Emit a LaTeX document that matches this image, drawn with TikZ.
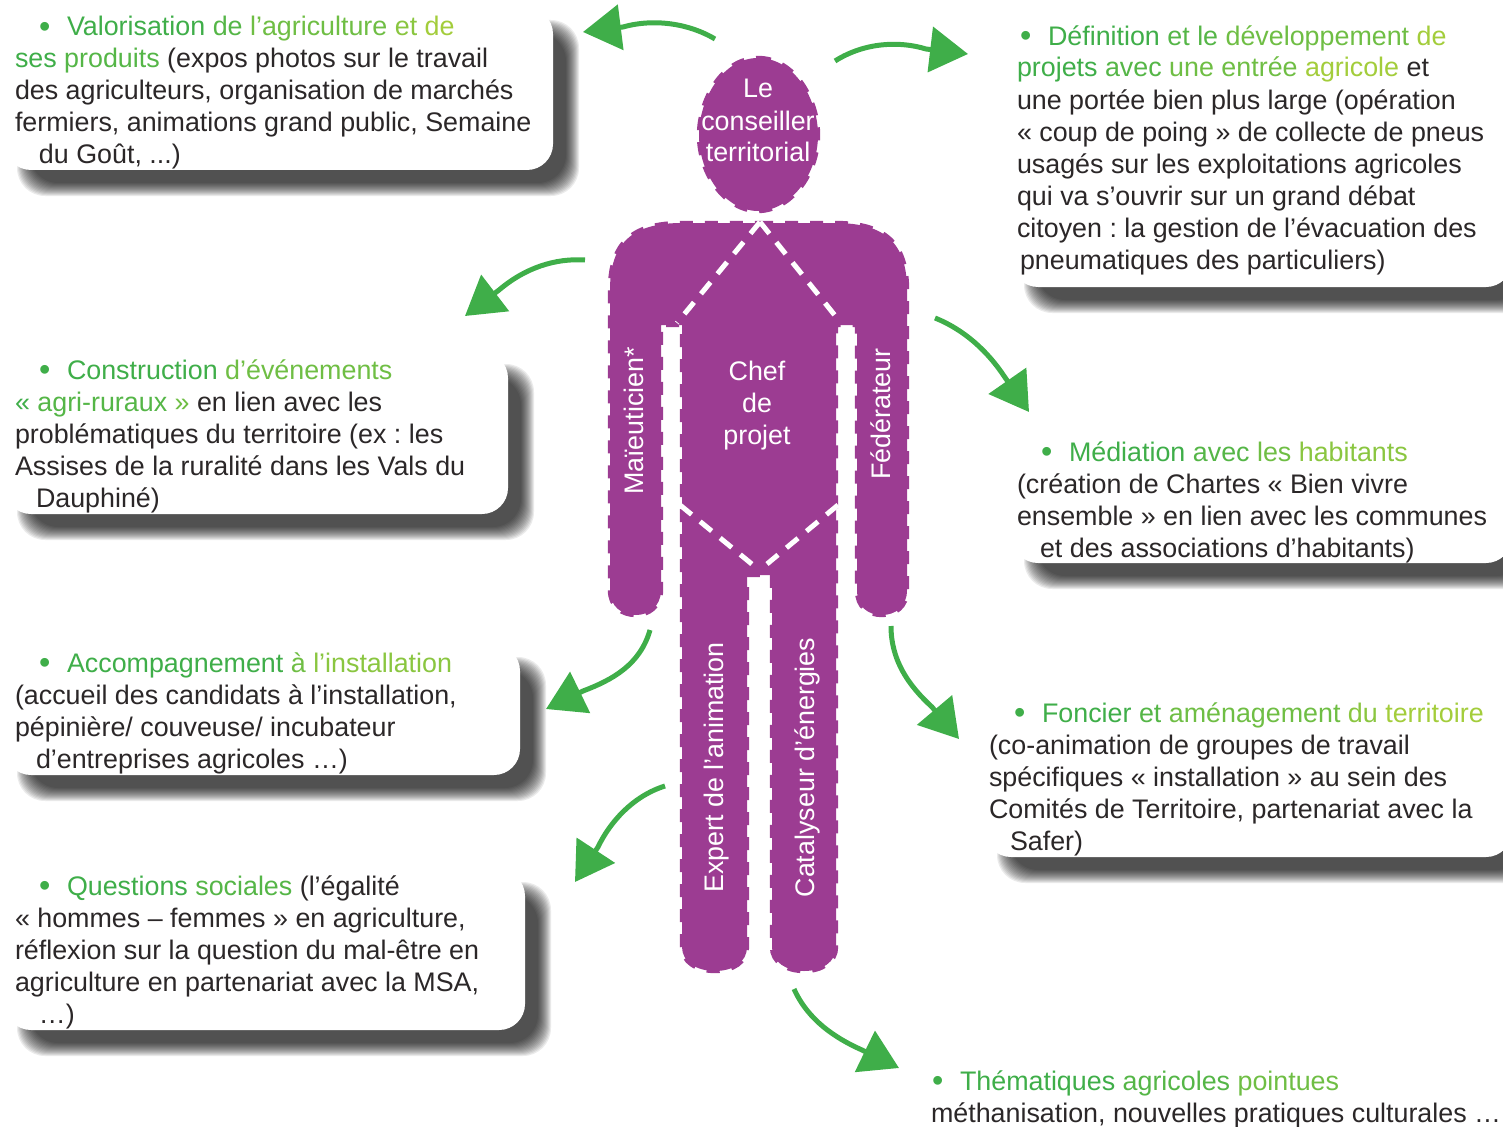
\documentclass[tikz,border=0pt]{standalone}
\usepackage{fontspec}
\setmainfont{Liberation Sans}
\usetikzlibrary{arrows.meta}
\definecolor{body}{HTML}{9C3C92}
\definecolor{ink}{HTML}{2B2728}
\definecolor{garrowc}{HTML}{3FAE49}
\definecolor{gA}{HTML}{3FAE49}
\definecolor{gB}{HTML}{55B647}
\definecolor{gC}{HTML}{6FBE44}
\definecolor{gD}{HTML}{8AC640}
\definecolor{gE}{HTML}{A3CD3B}
\newcommand{\bodyfont}{\frenchspacing\fontsize{26.85}{32}\selectfont}
\newcommand{\bul}[1]{\makebox[#1][l]{\hspace{#1}\llap{\raisebox{-1.2pt}{\scalebox{1.2}{\textcolor{gA}{•}}}\hspace{16.5pt}}}}
\newcommand{\gr}[2]{\textcolor{#1}{#2}}
\tikzset{
  x=1pt,y=-1pt,
  whitebox/.style={fill=white,rounded corners=26pt,inner sep=0pt,outer sep=0pt},
  para/.style={anchor=north west,inner sep=0pt,outer sep=0pt,align=left,text=ink,font=\bodyfont},
  whitelabel/.style={text=white,font=\bodyfont,inner sep=0pt,outer sep=0pt},
  sidelabel/.style={whitelabel,rotate=90,anchor=base},
  centerlabel/.style={whitelabel,align=center,anchor=north},
  garrow/.style={draw=garrowc,line width=5pt,-{Triangle[length=38pt,width=45pt]}},
  bodynubs/.style={draw=body,line width=4.4pt,dash pattern=on 13pt off 12pt},
  seam/.style={draw=white,line width=5pt,dash pattern=on 15pt off 11pt},
}
% name, x0, y0, x1, y1
\newcommand{\shadowed}[5]{%
  \foreach \k in {-7,-6,...,6}{%
    \fill[black,opacity=.078,rounded corners=28pt]
      (#2+19+\k,#3+19+\k) rectangle (#4+19-\k,#5+19-\k);
  }%
  \pgfmathsetmacro{\cx}{(#2+#4)/2}\pgfmathsetmacro{\cy}{(#3+#5)/2}%
  \pgfmathsetmacro{\bw}{#4-#2}\pgfmathsetmacro{\bh}{#5-#3}%
  \node[whitebox,minimum width=\bw pt,minimum height=\bh pt] (#1) at (\cx,\cy) {};%
}
% name, x, first baseline, text
\newcommand{\parat}[4]{\node[para] (#1) at (#2,#3-22.4) {\strut#4};}
\begin{document}
\begin{tikzpicture}
\useasboundingbox (0,0) rectangle (1503,1126);
\begin{scope}
\clip (0,0) rectangle (1503,1126);
\shadowed{boxA}{5}{8}{553}{170}
\shadowed{boxB}{1012}{14}{1512}{287}
\shadowed{boxC}{5}{352}{508}{514}
\shadowed{boxD}{1012}{430}{1512}{563}
\shadowed{boxE}{5}{645}{520}{775}
\shadowed{boxF}{985}{695}{1512}{857}
\shadowed{boxG}{5}{870}{525}{1030}
\end{scope}

% texts
\parat{txtA}{15}{36}{\bul{52pt}\gr{gA}{Valorisation} \gr{gB}{de} \gr{gC}{l’agriculture} \gr{gD}{et} \gr{gE}{de}\\
\gr{gA}{ses} \gr{gB}{produits} (expos photos sur le travail\\
des agriculteurs, organisation de marchés\\
fermiers, animations grand public, Semaine\\
\hspace*{24pt}du Goût, ...)}
\parat{txtB}{1017}{45}{\bul{31pt}\gr{gA}{Définition} \gr{gB}{et} \gr{gB}{le} \gr{gC}{développement} \gr{gE}{de}\\
\gr{gA}{projets} \gr{gB}{avec} \gr{gC}{une} \gr{gC}{entrée} \gr{gE}{agricole} et\\
une portée bien plus large (opération\\
« coup de poing » de collecte de pneus\\
usagés sur les exploitations agricoles\\
qui va s’ouvrir sur un grand débat\\
citoyen : la gestion de l’évacuation des\\
\hspace*{3pt}pneumatiques des particuliers)}
\parat{txtC}{15}{379}{\bul{52pt}\gr{gA}{Construction} \gr{gC}{d’événements}\\
\gr{gA}{«} \gr{gB}{agri-ruraux} \gr{gC}{»} en lien avec les\\
problématiques du territoire (ex : les\\
Assises de la ruralité dans les Vals du\\
\hspace*{21pt}Dauphiné)}
\parat{txtD}{1017}{461}{\bul{52pt}\gr{gA}{Médiation} \gr{gB}{avec} \gr{gC}{les} \gr{gD}{habitants}\\
(création de Chartes « Bien vivre\\
ensemble » en lien avec les communes\\
\hspace*{23pt}et des associations d’habitants)}
\parat{txtE}{15}{672}{\bul{52pt}\gr{gA}{Accompagnement} \gr{gC}{à} \gr{gD}{l’installation}\\
(accueil des candidats à l’installation,\\
pépinière/ couveuse/ incubateur\\
\hspace*{21pt}d’entreprises agricoles …)}
\parat{txtF}{989}{722}{\bul{53pt}\gr{gA}{Foncier} \gr{gB}{et} \gr{gC}{aménagement} \gr{gD}{du} \gr{gE}{territoire}\\
(co-animation de groupes de travail\\
spécifiques « installation » au sein des\\
Comités de Territoire, partenariat avec la\\
\hspace*{21pt}Safer)}
\parat{txtG}{15}{895}{\bul{52pt}\gr{gA}{Questions} \gr{gB}{sociales} (l’égalité\\
« hommes – femmes » en agriculture,\\
réflexion sur la question du mal-être en\\
agriculture en partenariat avec la MSA,\\
\hspace*{24pt}…)}
\parat{txtH}{931}{1090}{\bul{29pt}\gr{gA}{Thématiques} \gr{gB}{agricoles} \gr{gC}{pointues}\\
méthanisation, nouvelles pratiques culturales …}

% body
\def\headpath{(758,58) .. controls (795,58) and (818,100) .. (818,135)
  .. controls (818,175) and (790,211) .. (758,211)
  .. controls (726,211) and (699,175) .. (699,135)
  .. controls (699,100) and (722,58) .. (758,58) -- cycle}
\def\bodypath{(760,223) -- (835,223) .. controls (885,223) and (907,243) .. (907,290)
  -- (907,590) .. controls (907,607) and (895,615) .. (882,615)
  .. controls (868,615) and (857,607) .. (857,590) -- (857,325) -- (836,325)
  -- (836,947) .. controls (836,962) and (822,971) .. (804,971)
  .. controls (786,971) and (772,962) .. (772,947) -- (772,575) -- (747,575)
  -- (747,947) .. controls (747,962) and (733,971) .. (715,971)
  .. controls (697,971) and (682,962) .. (682,947) -- (682,325) -- (661,325)
  -- (661,590) .. controls (661,607) and (648,615) .. (636,615)
  .. controls (622,615) and (610,607) .. (610,590) -- (610,290)
  .. controls (610,243) and (632,223) .. (682,223) -- cycle}
\fill[body] \headpath;
\path[bodynubs] \headpath;
\fill[body] \bodypath;
\path[bodynubs] \bodypath;
\coordinate (neck) at (760,222);
\coordinate (armL) at (677,323);
\coordinate (armR) at (841,323);
\coordinate (hipL) at (680,505);
\coordinate (hipR) at (838,505);
\coordinate (crotchL) at (753,565);
\coordinate (crotchR) at (767,564);
\draw[seam] (neck) -- (armL);
\draw[seam] (neck) -- (armR);
\draw[seam] (hipL) -- (crotchL);
\draw[seam] (hipR) -- (crotchR);

\node[centerlabel] (head) at (758,98-22.4) {\strut Le\\conseiller\\territorial};
\node[centerlabel] (chef) at (757,380-22.4) {\strut Chef\\de\\projet};
\node[sidelabel] (maieu) at (643,421) {Maïeuticien*};
\node[sidelabel] (feder) at (890,414) {Fédérateur};
\node[sidelabel] (expert) at (723,767.5) {Expert de l’animation};
\node[sidelabel] (catal) at (814,767.5) {Catalyseur d’énergies};

% arrows: start, point behind the head, tip
\coordinate (s1) at (715,39);  \coordinate (b1) at (623,27);   \coordinate (t1) at (583,32);
\coordinate (s2) at (835,61);  \coordinate (b2) at (926,49);   \coordinate (t2) at (968,54);
\coordinate (s3) at (585,260); \coordinate (b3) at (499,290);  \coordinate (t3) at (465,316);
\coordinate (s4) at (935,318); \coordinate (b4) at (1004,376); \coordinate (t4) at (1029,412);
\coordinate (s5) at (650,630); \coordinate (b5) at (583,691);  \coordinate (t5) at (546,709);
\coordinate (s6) at (891,626); \coordinate (b6) at (932,707);  \coordinate (t6) at (959,739);
\coordinate (s7) at (665,786); \coordinate (b7) at (598,847);  \coordinate (t7) at (575,882);
\coordinate (s8) at (794,989); \coordinate (b8) at (862,1050); \coordinate (t8) at (899,1068);
\draw[garrow] (s1) .. controls (690,24) and (655,18) .. (b1) -- (t1);
\draw[garrow] (s2) .. controls (865,42) and (900,41) .. (b2) -- (t2);
\draw[garrow] (s3) .. controls (555,258) and (525,268) .. (b3) -- (t3);
\draw[garrow] (s4) .. controls (965,330) and (988,352) .. (b4) -- (t4);
\draw[garrow] (s5) .. controls (640,665) and (612,680) .. (b5) -- (t5);
\draw[garrow] (s6) .. controls (891,660) and (908,685) .. (b6) -- (t6);
\draw[garrow] (s7) .. controls (633,796) and (610,822) .. (b7) -- (t7);
\draw[garrow] (s8) .. controls (808,1020) and (835,1038) .. (b8) -- (t8);
\end{tikzpicture}
\end{document}
